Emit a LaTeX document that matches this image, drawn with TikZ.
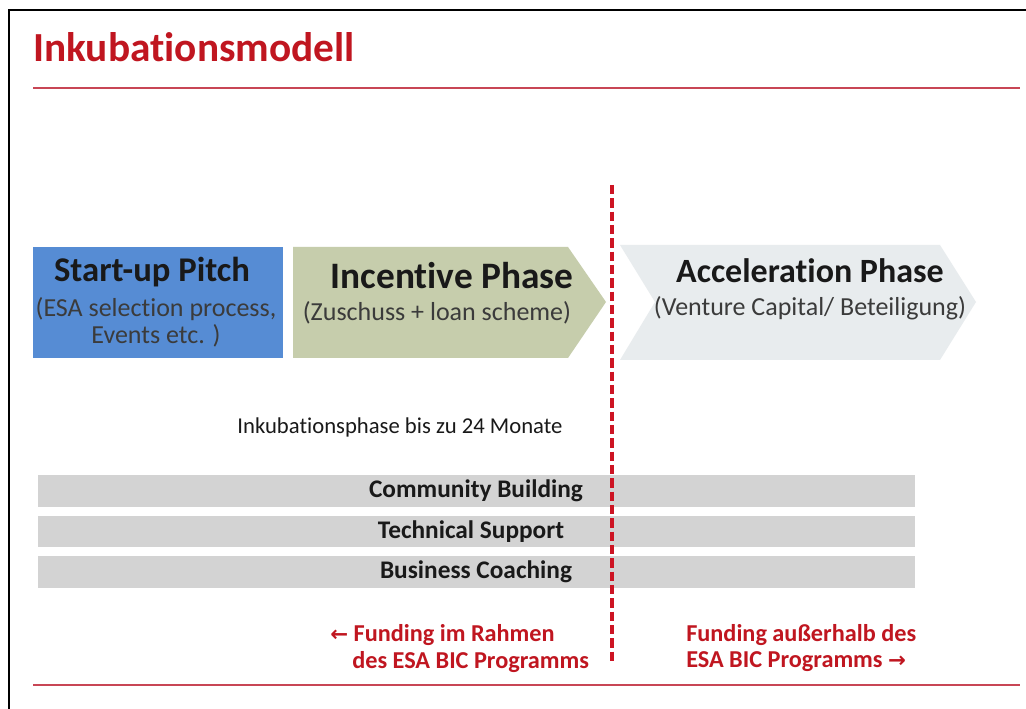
\documentclass[tikz,border=0pt]{standalone}
\usepackage{fontspec}
\setmainfont{Carlito}[Ligatures=NoCommon]
\newfontfamily\symfont{DejaVu Sans}
\definecolor{titlered}{RGB}{192,22,32}
\definecolor{linered}{RGB}{200,70,85}
\definecolor{dashred}{RGB}{205,20,35}
\definecolor{pitchblue}{RGB}{86,140,212}
\definecolor{sage}{RGB}{198,205,172}
\definecolor{accgray}{RGB}{232,236,238}
\definecolor{bargray}{RGB}{211,211,211}
\definecolor{txt}{RGB}{25,25,25}
\tikzset{
  headtxt/.style={font=\bfseries\fontsize{26}{30}\selectfont, text=txt, inner sep=0pt},
  subtxt/.style={font=\fontsize{19.5}{20.5}\selectfont, text=txt!85, inner sep=0pt, align=center},
  bartxt/.style={font=\bfseries\fontsize{19}{22}\selectfont, text=txt, inner sep=0pt},
  bar/.style={fill=bargray, draw=none},
  fundtxt/.style={font=\bfseries\fontsize{18.2}{21}\selectfont, text=titlered, inner sep=0pt},
}
\begin{document}
\begin{tikzpicture}[x=0.75pt,y=-0.75pt]
\useasboundingbox (0,0) rectangle (1026,709);
\fill[white] (0,0) rectangle (1026,709);
% frame (left and top only)
\draw[black, line width=1.6pt] (9,709) -- (9,10) -- (1026,10);
% title
\node[anchor=base west, font=\bfseries\fontsize{31}{36}\selectfont, text=titlered, inner sep=0pt] (title) at (33,62) {Inkubationsmodell};
% red rules
\draw[linered, line width=2pt] (33,88) -- (1020,88);
\draw[linered, line width=2pt] (33,685) -- (1020,685);
% phases
\fill[pitchblue] (33,247) rectangle (283,358);
\fill[sage] (293,247) -- (568,247) -- (606,302) -- (568,358) -- (293,358) -- cycle;
\fill[accgray] (620,245) -- (940,245) -- (976,302) -- (940,360) -- (620,360) -- (655,302) -- cycle;
\node[headtxt] (pitch) at (152,272) {Start-up Pitch};
\node[subtxt] (pitchsub) at (156,322) {(ESA selection process,\\ Events etc. )};
\node[headtxt, font=\bfseries\fontsize{28}{32}\selectfont] (incent) at (452,276) {Incentive Phase};
\node[subtxt] (incentsub) at (437,313) {(Zuschuss + loan scheme)};
\node[headtxt, font=\bfseries\fontsize{25.5}{30}\selectfont] (accel) at (810,271) {Acceleration Phase};
\node[subtxt] (accelsub) at (810,308) {(Venture Capital/ Beteiligung)};
% duration
\node[font=\fontsize{17}{20}\selectfont, text=txt, inner sep=0pt] (dur) at (400,427) {Inkubationsphase bis zu 24 Monate};
% bars
\fill[bar] (38,475) rectangle (915,507);
\fill[bar] (38,516) rectangle (915,547);
\fill[bar] (38,556) rectangle (915,588);
\node[bartxt] (cb) at (476,491) {Community Building};
\node[bartxt] (ts) at (471,532) {Technical Support};
\node[bartxt] (bc) at (476,572) {Business Coaching};
% divider
\coordinate (dtop) at (612,185);
\coordinate (dbot) at (612,665);
\draw[dashred, line width=2.7pt, dash pattern=on 7pt off 3pt] (dtop) -- (dbot);
% funding notes
\node[fundtxt, anchor=west] (f1a) at (330,635) {{\symfont\fontsize{16}{18}\selectfont ←}\ Funding im Rahmen};
\node[fundtxt, anchor=west] (f1b) at (352,662) {des ESA BIC Programms};
\node[fundtxt, anchor=west] (f2a) at (686,635) {Funding außerhalb des};
\node[fundtxt, anchor=west] (f2b) at (686,662) {ESA BIC Programms\ {\symfont\fontsize{16}{18}\selectfont →}};
\end{tikzpicture}
\end{document}
